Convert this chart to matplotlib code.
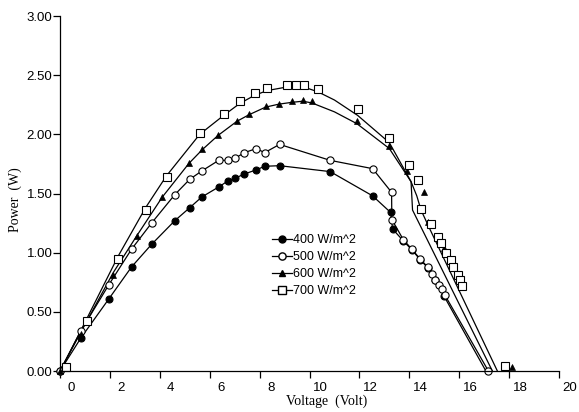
import matplotlib
matplotlib.use("Agg")
import matplotlib.pyplot as plt
from matplotlib.lines import Line2D
from matplotlib.transforms import ScaledTranslation

plt.rcParams['font.family'] = ['Liberation Sans', 'DejaVu Sans']

labels = ['400 W/m^2', '500 W/m^2', '600 W/m^2', '700 W/m^2']

# measured points (markers)
v400 = [0, 0.84, 1.96, 2.87, 3.67, 4.6, 5.2, 5.68, 6.36, 6.72, 7.03, 7.39, 7.87, 8.2, 8.8,
        10.83, 12.53, 13.25, 13.33, 13.76, 14.12, 14.44, 14.75, 15.05, 15.4]
p400 = [0, 0.28, 0.61, 0.88, 1.07, 1.27, 1.38, 1.47, 1.555, 1.605, 1.63, 1.665, 1.70, 1.73, 1.735,
        1.685, 1.48, 1.34, 1.20, 1.10, 1.02, 0.94, 0.87, 0.77, 0.63]

v500 = [0, 0.84, 1.96, 2.87, 3.67, 4.6, 5.2, 5.68, 6.36, 6.72, 7.03, 7.39, 7.87, 8.2, 8.8,
        10.83, 12.53, 13.29, 13.3, 13.76, 14.1, 14.42, 14.73, 14.9, 15.05, 15.2, 15.33, 15.43, 17.17]
p500 = [0, 0.34, 0.73, 1.03, 1.25, 1.49, 1.62, 1.69, 1.78, 1.78, 1.80, 1.845, 1.88, 1.845, 1.915,
        1.78, 1.71, 1.51, 1.28, 1.11, 1.03, 0.95, 0.88, 0.82, 0.77, 0.73, 0.69, 0.64, 0]

v600 = [0, 0.84, 2.13, 3.1, 4.1, 5.17, 5.7, 6.33, 7.09, 7.57, 8.24, 8.77, 9.28, 9.73, 10.1,
        11.9, 13.17, 13.9, 14.57, 14.73, 15.4, 18.1]
p600 = [0, 0.31, 0.81, 1.14, 1.47, 1.755, 1.875, 1.995, 2.115, 2.17, 2.24, 2.26, 2.285, 2.29, 2.28,
        2.115, 1.90, 1.69, 1.51, 1.26, 1.04, 0.035]

v700 = [0.25, 1.07, 2.33, 3.43, 4.27, 5.6, 6.56, 7.2, 7.8, 8.31, 9.09, 9.47, 9.77, 10.33,
        11.93, 13.2, 14.0, 14.36, 14.47, 14.87, 15.16, 15.29, 15.49, 15.67, 15.77, 15.96, 16.04, 16.13, 17.83]
p700 = [0.03, 0.42, 0.95, 1.36, 1.64, 2.01, 2.17, 2.28, 2.35, 2.39, 2.42, 2.42, 2.42, 2.38,
        2.21, 1.97, 1.74, 1.61, 1.37, 1.24, 1.135, 1.08, 1.0, 0.94, 0.88, 0.81, 0.77, 0.72, 0.04]

# drawn curves
c400_v = v400 + [17.07]
c400_p = p400 + [0]
c500_v = v500
c500_p = p500
c600_v = [0, 0.84, 2.13, 3.1, 4.1, 5.17, 5.7, 6.33, 7.09, 7.57, 8.24, 8.77, 9.28, 9.73, 10.1,
          11.0, 11.9, 13.2, 14.07, 14.13, 17.33]
c600_p = [0, 0.33, 0.83, 1.15, 1.47, 1.755, 1.87, 1.99, 2.11, 2.165, 2.23, 2.255, 2.27, 2.28, 2.265,
          2.19, 2.09, 1.88, 1.6, 1.36, 0]
c700_v = [0, 0.25, 1.07, 2.33, 3.43, 4.27, 5.6, 6.56, 7.2, 7.8, 8.31, 9.09, 9.77, 10.33,
          11.0, 11.93, 13.2, 14.07, 14.3, 14.47, 14.8, 17.53]
c700_p = [0, 0.1, 0.44, 0.97, 1.38, 1.65, 2.0, 2.16, 2.26, 2.33, 2.37, 2.40, 2.40, 2.36,
          2.29, 2.16, 1.93, 1.6, 1.48, 1.36, 1.21, 0]

fig = plt.figure(figsize=(5.79, 4.12), dpi=100)
ax = fig.add_axes([60/579, 1-371/412, 499/579, 355/412])

lw = 0.9
ax.plot(c400_v, c400_p, color='black', lw=lw)
ax.plot(c500_v, c500_p, color='black', lw=lw)
ax.plot(c600_v, c600_p, color='black', lw=lw)
ax.plot(c700_v, c700_p, color='black', lw=lw)

ax.plot(v400, p400, 'o', ms=5, mfc='black', mec='black', mew=0.8, clip_on=False)
ax.plot(v500, p500, 'o', ms=5.2, mfc='white', mec='black', mew=0.8, clip_on=False)
ax.plot(v600, p600, '^', ms=4, mfc='black', mec='black', mew=0.5, clip_on=False)
ax.plot(v700, p700, 's', ms=5.2, mfc='white', mec='black', mew=0.8, clip_on=False)

ax.set_xlim(0, 20)
ax.set_ylim(0, 3)
ax.set_xticks(range(0, 21, 2))
yt = [0, 0.5, 1.0, 1.5, 2.0, 2.5, 3.0]
ax.set_yticks(yt)
ax.set_yticklabels(['%.2f' % t for t in yt])
ax.spines['top'].set_visible(False)
ax.spines['right'].set_visible(False)
ax.spines['left'].set_linewidth(0.9)
ax.spines['bottom'].set_linewidth(0.9)
ax.tick_params(axis='both', direction='out', length=5, width=0.9, labelsize=9.5, colors='black')
ax.tick_params(axis='y', pad=0.5)
ax.tick_params(axis='x', pad=3)

# tick labels sit a little right of their ticks in the original
shift = ScaledTranslation(0.11, 0, fig.dpi_scale_trans)
for lab in ax.get_xticklabels():
    lab.set_transform(lab.get_transform() + shift)

fig.text(327/579, 1-401/412, 'Voltage  (Volt)', family='Liberation Serif', fontsize=10,
         ha='center', va='center')
fig.text(15/579, 1-200/412, 'Power  (W)', family='Liberation Serif', fontsize=10,
         rotation=90, ha='center', va='center')

handles = [
    Line2D([], [], color='black', lw=lw, marker='o', ms=5, mfc='black', mec='black'),
    Line2D([], [], color='black', lw=lw, marker='o', ms=5.2, mfc='white', mec='black'),
    Line2D([], [], color='black', lw=lw, marker='^', ms=4, mfc='black', mec='black'),
    Line2D([], [], color='black', lw=lw, marker='s', ms=5.2, mfc='white', mec='black'),
]
ax.legend(handles, labels, loc='upper left', bbox_to_anchor=((272-60)/499, (371-234)/355),
          frameon=False, fontsize=9, handlelength=1.6, handletextpad=0.1,
          borderpad=0, borderaxespad=0, labelspacing=0.4, numpoints=1)

fig.savefig('out.png', dpi=100)
